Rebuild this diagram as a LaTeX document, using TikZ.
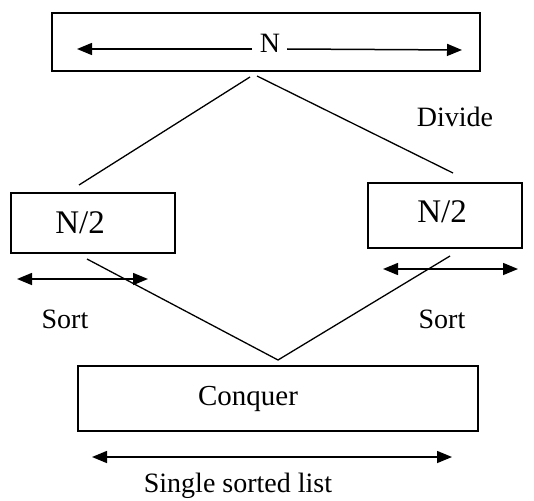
\documentclass[tikz,border=0pt]{standalone}
\usepackage{fontspec}
\setmainfont{Liberation Serif}
\usetikzlibrary{arrows.meta}
\begin{document}
\begin{tikzpicture}[x=1pt,y=-1pt,
  box/.style={draw,line width=1.6pt,inner sep=0pt},
  lbl/.style={anchor=base,inner sep=0pt,font=\fontsize{28}{30}\selectfont},
  half/.style={anchor=base,inner sep=0pt,font=\fontsize{33}{36}\selectfont},
  link/.style={line width=1.3pt},
  span/.style={line width=1.5pt,{Triangle[length=15pt,width=12pt]}-{Triangle[length=15pt,width=12pt]}},
  ray/.style={line width=1.5pt,-{Triangle[length=15pt,width=12pt]}}]
\useasboundingbox (0,0) rectangle (534,500);

% boxes
\node[box,minimum width=428pt,minimum height=58pt] (top) at (266,42) {};
\node[box,minimum width=164pt,minimum height=60pt] (lbox) at (93,223) {};
\node[box,minimum width=154pt,minimum height=65pt] (rbox) at (445,215.5) {};
\node[box,minimum width=400pt,minimum height=65pt] (conq) at (278,398.5) {};

% texts
\node[lbl] (n) at (270,53) {N};
\node[half] (lhalf) at (80,233) {N/2};
\node[half] (rhalf) at (442,222) {N/2};
\node[lbl,font=\fontsize{29}{31}\selectfont] (ctext) at (248,405) {Conquer};
\node[lbl] (divide) at (455,126) {Divide};
\node[lbl] (lsort) at (65,328) {Sort};
\node[lbl] (rsort) at (442,328) {Sort};
\node[lbl] (single) at (238,492) {Single sorted list};

% arrow ends and line ends
\coordinate (nl) at (252,49);
\coordinate (nr) at (287,49);
\coordinate (tl) at (77,49);
\coordinate (tr) at (462,50);
\coordinate (d1) at (250,77);
\coordinate (d2) at (79,185);
\coordinate (d3) at (257,76);
\coordinate (d4) at (453,173);
\coordinate (c1) at (87,259);
\coordinate (c2) at (450,256);
\coordinate (cv) at (278,360);
\coordinate (s1a) at (17,279);
\coordinate (s1b) at (148,279);
\coordinate (s2a) at (383,269);
\coordinate (s2b) at (518,269);
\coordinate (b1) at (92,457);
\coordinate (b2) at (452,457);

% size of the whole list
\draw[ray] (nl) -- (tl);
\draw[ray] (nr) -- (tr);

% divide
\draw[link] (d1) -- (d2);
\draw[link] (d3) -- (d4);

% conquer
\draw[link] (c1) -- (cv) -- (c2);

% sorted halves and merged list
\draw[span] (s1a) -- (s1b);
\draw[span] (s2a) -- (s2b);
\draw[span] (b1) -- (b2);
\end{tikzpicture}
\end{document}
